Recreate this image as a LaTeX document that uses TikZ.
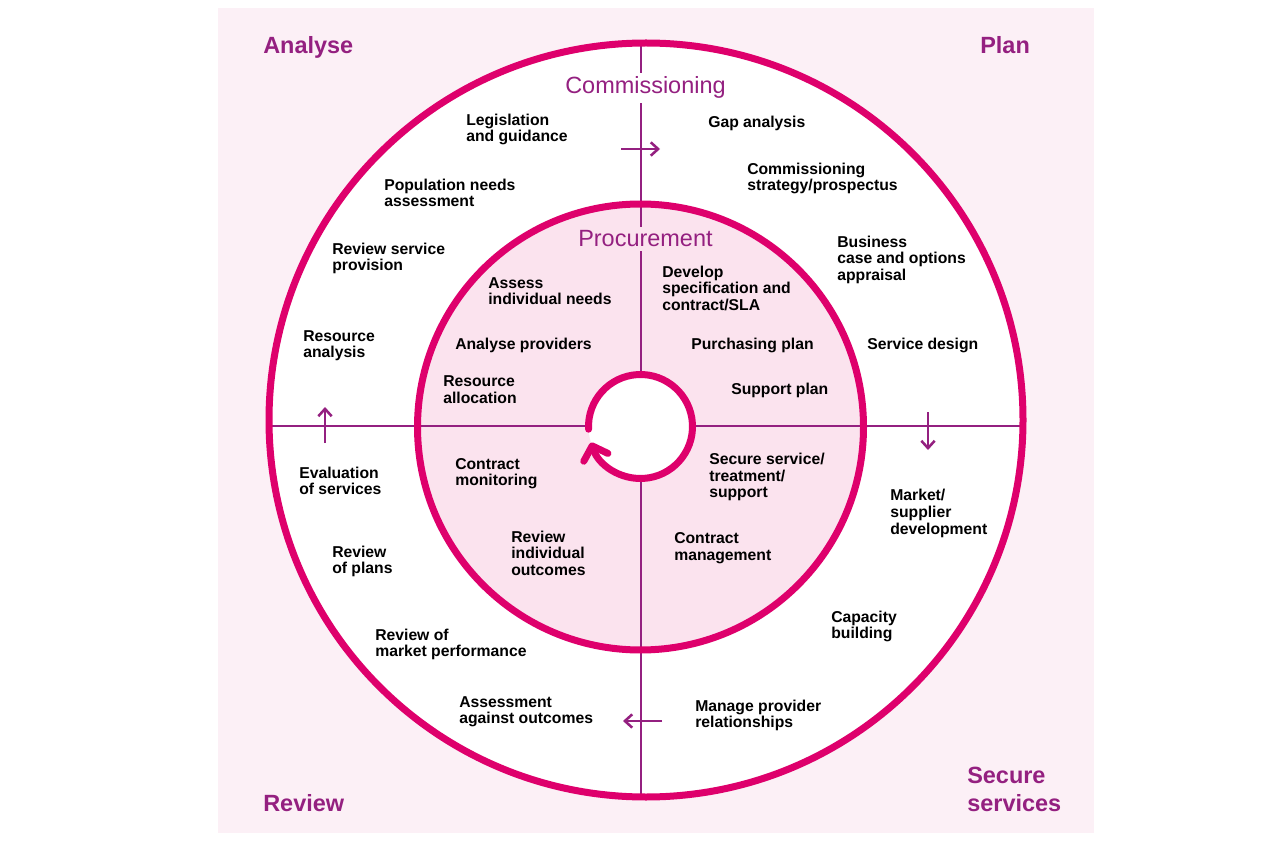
\documentclass[tikz,border=0pt]{standalone}
\usepackage{fontspec}
\setmainfont{Liberation Sans}
\usepackage{tikz}
\usetikzlibrary{arrows.meta, positioning}
\definecolor{mymag}{RGB}{222,0,108}
\definecolor{mypurple}{RGB}{148,32,128}
\definecolor{bgpink}{RGB}{252,240,246}
\definecolor{inpink}{RGB}{251,227,238}
\tikzset{
  lbl/.style={anchor=base west, align=left, inner sep=0pt,
    font=\fontsize{11.8}{12.5}\selectfont\bfseries},
  corner/.style={anchor=base west, align=left, inner sep=0pt,
    font=\fontsize{17.6}{20.8}\selectfont\bfseries, text=mypurple},
  heading/.style={anchor=base west, inner xsep=0pt, inner ysep=3pt,
    font=\fontsize{17.6}{20}\selectfont, text=mypurple},
  ring/.style={draw=mymag, line width=5.25pt},
  line/.style={mypurple, line width=1.1pt},
  arrow/.style={-{Straight Barb[length=5.5pt,width=10pt]}, mypurple, line width=1.9pt}
}

\begin{document}
\begin{tikzpicture}[x=0.75pt, y=-0.75pt]
  \useasboundingbox (0,0) rectangle (1281,855);
  % background
  \fill[bgpink] (218,8) rectangle (1094,833);
  \coordinate (oc) at (646,420);
  \coordinate (ic) at (640.5,427);
  \coordinate (sc) at (640.5,426.5);
  \fill[white] (oc) circle (377);
  \fill[inpink] (ic) circle (223);
  % cross
  \coordinate (vt) at (641,44);
  \coordinate (vb) at (641,796);
  \coordinate (hl) at (270,426);
  \coordinate (hr) at (1021,426);
  \draw[line] (vt) -- (vb);
  \draw[line] (hl) -- (hr);
  % headings
  \node[heading, fill=white] (comm) at (565,94) {Commissioning};
  \node[heading, fill=inpink] (proc) at (578,247) {Procurement};
  % rings
  \fill[white] (sc) circle (52);
  \draw[ring] (oc) circle (377);
  \draw[ring] (ic) circle (223);
  \draw[ring, line cap=round, -{Straight Barb[length=9pt,width=19pt,round]}]
    ([shift={(177:52)}]sc) arc (177:522:52);
  % small arrows
  \coordinate (ta) at (621,149);
  \coordinate (tb) at (660,149);
  \coordinate (ra) at (928,412);
  \coordinate (rb) at (928,450);
  \coordinate (ba) at (662,721);
  \coordinate (bb) at (623,721);
  \coordinate (la) at (325,443);
  \coordinate (lb) at (325,407);
  \draw[arrow] (ta) -- (tb);
  \draw[arrow] (ra) -- (rb);
  \draw[arrow] (ba) -- (bb);
  \draw[arrow] (la) -- (lb);
  % corners (anchor = last line)
  \node[corner] (analyse) at (263,54) {Analyse};
  \node[corner] (plan) at (980,54) {Plan};
  \node[corner] (review) at (263,811) {Review};
  \node[corner] (secure) at (967,811) {Secure\\services};
  % outer ring
  \node[lbl] (legis) at (466,141.7) {Legislation\\and guidance};
  \node[lbl] (gap) at (708,128) {Gap analysis};
  \node[lbl] (strat) at (747,190.7) {Commissioning\\strategy/prospectus};
  \node[lbl] (popn) at (384,206.7) {Population needs\\assessment};
  \node[lbl] (bcase) at (837,280.4) {Business\\case and options\\appraisal};
  \node[lbl] (rsp) at (332,270.7) {Review service\\provision};
  \node[lbl] (ranal) at (303,357.7) {Resource\\analysis};
  \node[lbl] (sdes) at (867,350) {Service design};
  \node[lbl] (evals) at (299,494.7) {Evaluation\\of services};
  \node[lbl] (market) at (890,534) {Market/\\supplier\\development};
  \node[lbl] (rplans) at (332,573.7) {Review\\of plans};
  \node[lbl] (capac) at (831,638.7) {Capacity\\building};
  \node[lbl] (rmkt) at (375,656.7) {Review of\\market performance};
  \node[lbl] (assess) at (459,723.7) {Assessment\\against outcomes};
  \node[lbl] (manage) at (695,727.7) {Manage provider\\relationships};
  % inner ring
  \node[lbl] (aneeds) at (488,304.7) {Assess\\individual needs};
  \node[lbl] (devspec) at (662,310.4) {Develop\\specification and\\contract/SLA};
  \node[lbl] (aprov) at (455,350) {Analyse providers};
  \node[lbl] (pplan) at (691,350) {Purchasing plan};
  \node[lbl] (ralloc) at (443,403.5) {Resource\\allocation};
  \node[lbl] (splan) at (731,395) {Support plan};
  \node[lbl] (cmon) at (455,485.7) {Contract\\monitoring};
  \node[lbl] (ssvc) at (709,497.7) {Secure service/\\treatment/\\support};
  \node[lbl] (rind) at (511,575.4) {Review\\individual\\outcomes};
  \node[lbl] (cman) at (674,560) {Contract\\management};
\end{tikzpicture}
\end{document}
